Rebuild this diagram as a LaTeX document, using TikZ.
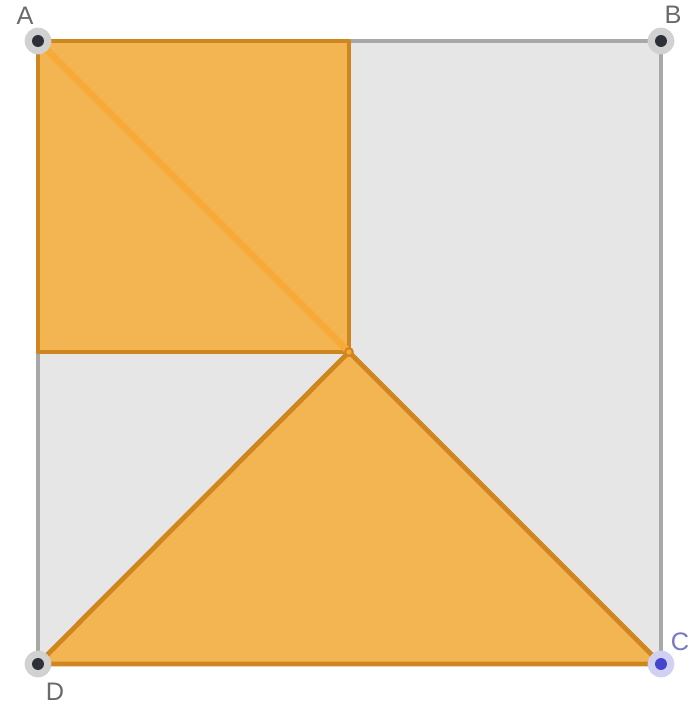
\documentclass[tikz,border=0pt]{standalone}
\usepackage{fontspec}
\setsansfont{Liberation Sans}
\usepackage{tikz}
\usetikzlibrary{positioning,calc}
\usepackage{xcolor}
\definecolor{PlaneGrey}{HTML}{E6E6E6}
\definecolor{EdgeGrey}{HTML}{A8A8A8}
\definecolor{PieceOrange}{HTML}{F2B552}
\definecolor{PieceEdge}{HTML}{CF861E}
\definecolor{DiagOrange}{HTML}{F7AA38}
\definecolor{PointInk}{HTML}{2E3038}
\definecolor{PointBlue}{HTML}{4444CC}
\definecolor{LabelGrey}{HTML}{6A6A6A}
\definecolor{LabelBlue}{HTML}{7777C4}

\begin{document}
\begin{tikzpicture}[x=0.025cm,y=-0.025cm,
    piece/.style={fill=PieceOrange,draw=PieceEdge,line width=3.4pt,line join=round},
    pt/.style={circle,fill=PointInk,inner sep=0pt,minimum size=8.5pt},
    halo/.style={circle,fill=black!18,inner sep=0pt,minimum size=19pt},
    lbl/.style={font=\sffamily\fontsize{18}{18}\selectfont,text=LabelGrey,inner sep=0pt}]
  \useasboundingbox (0,0) rectangle (691,707);
  % Ecken des grossen Quadrats und der Mittelpunkt.
  \coordinate (A) at (38,41);
  \coordinate (B) at (661,41);
  \coordinate (C) at (661,664);
  \coordinate (D) at (38,664);
  \coordinate (M) at (349,352);

  \fill[PlaneGrey] (A) -- (B) -- (C) -- (D) -- cycle;
  \draw[EdgeGrey,line width=2.6pt] (A) -- (B) -- (C) -- (D) -- cycle;

  % Die beiden orangen Teile.
  \draw[piece] (A) rectangle (M);
  \draw[DiagOrange,line width=5pt] (A) -- (M);
  \draw[piece] (D) -- (M) -- (C) -- cycle;
  \fill[PieceEdge] (M) circle (3.5pt);
  \fill[DiagOrange] (M) circle (1.8pt);

  % Punkte mit Beschriftung.
  \foreach \p in {A,B,D}{
    \node[halo] at (\p) {};
    \node[pt] at (\p) {};
  }
  \node[halo,fill=PointBlue!25] at (C) {};
  \node[pt,fill=PointBlue] at (C) {};

  \node[lbl] (labA) at (25,16) {A};
  \node[lbl] (labB) at (673,15) {B};
  \node[lbl,text=LabelBlue] (labC) at (680,642) {C};
  \node[lbl] (labD) at (55,692) {D};
\end{tikzpicture}
\end{document}
